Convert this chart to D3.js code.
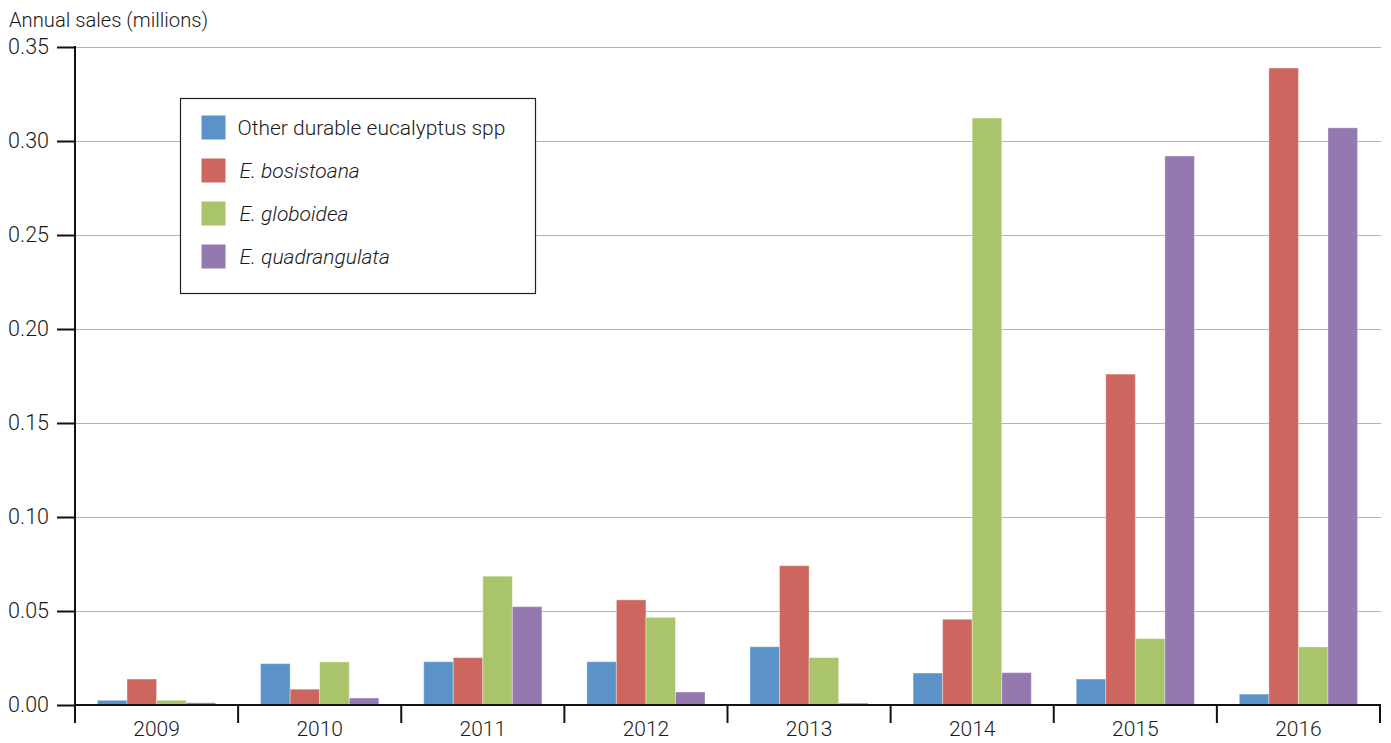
<!DOCTYPE html>
<html>
<head>
<meta charset="utf-8">
<script src="https://cdn.jsdelivr.net/npm/d3@7"></script>
<style>
  body { margin: 0; background: #fff; }
  svg text { font-family: Roboto, "Liberation Sans", Arial, sans-serif; font-weight: 300; fill: #1a1a1a; }
</style>
</head>
<body>
<div class="canvas"></div>
<script>
const years = ['2009', '2010', '2011', '2012', '2013', '2014', '2015', '2016'];
const seriesNames = ['Other durable eucalyptus spp', 'E. bosistoana', 'E. globoidea', 'E. quadrangulata'];
const italicSeries = [false, true, true, true];
const colors = ['#5b93c8', '#cc665f', '#a9c46a', '#9479b0'];
const other = [0.0025, 0.022, 0.023, 0.023, 0.031, 0.017, 0.0138, 0.0058];
const bosistoana = [0.0138, 0.0084, 0.0252, 0.0559, 0.0741, 0.0456, 0.176, 0.3388];
const globoidea = [0.0025, 0.0229, 0.0685, 0.0466, 0.0252, 0.3122, 0.0353, 0.0309];
const quadrangulata = [0.0012, 0.0037, 0.0523, 0.0069, 0.001, 0.0172, 0.292, 0.307];
const yTicks = [0, 0.05, 0.10, 0.15, 0.20, 0.25, 0.30, 0.35];

const allSeries = [other, bosistoana, globoidea, quadrangulata];

const dims = { width: 1391, height: 743 };
const margin = { left: 75, right: 11, top: 47, bottom: 38 };

const svg = d3.select('.canvas')
  .append('svg')
  .attr('width', dims.width)
  .attr('height', dims.height);

const x = d3.scaleBand()
  .domain(years)
  .range([margin.left, dims.width - margin.right])
  .padding(0);

const xInner = d3.scaleBand()
  .domain(seriesNames)
  .range([0, x.bandwidth()])
  .paddingInner(0)
  .paddingOuter(0.76);

const y = d3.scaleLinear()
  .domain([0, 0.35])
  .range([dims.height - margin.bottom, margin.top]);

// gridlines
svg.append('g')
  .selectAll('line')
  .data(yTicks.filter(d => d > 0))
  .enter()
  .append('line')
    .attr('x1', margin.left)
    .attr('x2', dims.width - margin.right + 1)
    .attr('y1', d => Math.round(y(d)) + 0.5)
    .attr('y2', d => Math.round(y(d)) + 0.5)
    .attr('stroke', '#b3b3b3')
    .attr('stroke-width', 1);

// bars
const groups = svg.append('g')
  .selectAll('g')
  .data(years)
  .enter()
  .append('g')
    .attr('transform', d => `translate(${x(d)}, 0)`);

groups.selectAll('rect')
  .data((yr, i) => seriesNames.map((name, k) => ({ name, k, value: allSeries[k][i] })))
  .enter()
  .append('rect')
    .attr('x', d => xInner(d.name))
    .attr('width', xInner.bandwidth())
    .attr('y', d => y(d.value))
    .attr('height', d => y(0) - y(d.value))
    .attr('fill', d => colors[d.k])
    .attr('stroke', '#fff')
    .attr('stroke-opacity', 0.35)
    .attr('stroke-width', 1);

// y axis
const yAxis = d3.axisLeft(y)
  .tickValues(yTicks)
  .tickFormat(d3.format('.2f'))
  .tickSize(18)
  .tickPadding(8);

const yAxisGroup = svg.append('g')
  .attr('transform', `translate(${margin.left}, 0)`)
  .call(yAxis);

yAxisGroup.select('.domain').remove();
yAxisGroup.selectAll('line').attr('stroke', '#111').attr('stroke-width', 2);
yAxisGroup.selectAll('text').attr('font-size', 21.5).attr('fill', '#1a1a1a');
yAxisGroup.append('line')
  .attr('x1', 0).attr('x2', 0)
  .attr('y1', y(0.35) - 1).attr('y2', y(0))
  .attr('stroke', '#111').attr('stroke-width', 2);

// x axis
const xAxis = d3.axisBottom(x).tickSize(0).tickPadding(16);
const xAxisGroup = svg.append('g')
  .attr('transform', `translate(0, ${y(0)})`)
  .call(xAxis);

xAxisGroup.select('.domain').remove();
xAxisGroup.selectAll('text').attr('font-size', 21).attr('fill', '#1a1a1a');

const boundaries = years.map(d => x(d)).concat([x.range()[1]]);
xAxisGroup.selectAll('.bound')
  .data(boundaries)
  .enter()
  .append('line')
    .attr('class', 'bound')
    .attr('x1', d => d).attr('x2', d => d)
    .attr('y1', 0).attr('y2', 18)
    .attr('stroke', '#111').attr('stroke-width', 2);

xAxisGroup.append('line')
  .attr('x1', margin.left - 1).attr('x2', x.range()[1] + 1)
  .attr('y1', 0).attr('y2', 0)
  .attr('stroke', '#111').attr('stroke-width', 2);

// axis title
svg.append('text')
  .attr('x', 9)
  .attr('y', 27)
  .attr('font-size', 20.2)
  .text('Annual sales (millions)');

// legend
const legend = svg.append('g')
  .attr('transform', 'translate(180.5, 98.5)');

legend.append('rect')
  .attr('width', 355)
  .attr('height', 195)
  .attr('fill', '#fff')
  .attr('stroke', '#222')
  .attr('stroke-width', 1.2);

const items = legend.selectAll('.item')
  .data(seriesNames)
  .enter()
  .append('g')
    .attr('class', 'item')
    .attr('transform', (d, i) => `translate(21, ${17 + i * 43})`);

items.append('rect')
  .attr('width', 24)
  .attr('height', 24)
  .attr('fill', (d, i) => colors[i]);

items.append('text')
  .attr('x', (d, i) => i === 0 ? 36 : 38)
  .attr('y', 19)
  .attr('font-size', 21)
  .attr('font-style', (d, i) => italicSeries[i] ? 'italic' : 'normal')
  .text(d => d);
</script>
</body>
</html>
